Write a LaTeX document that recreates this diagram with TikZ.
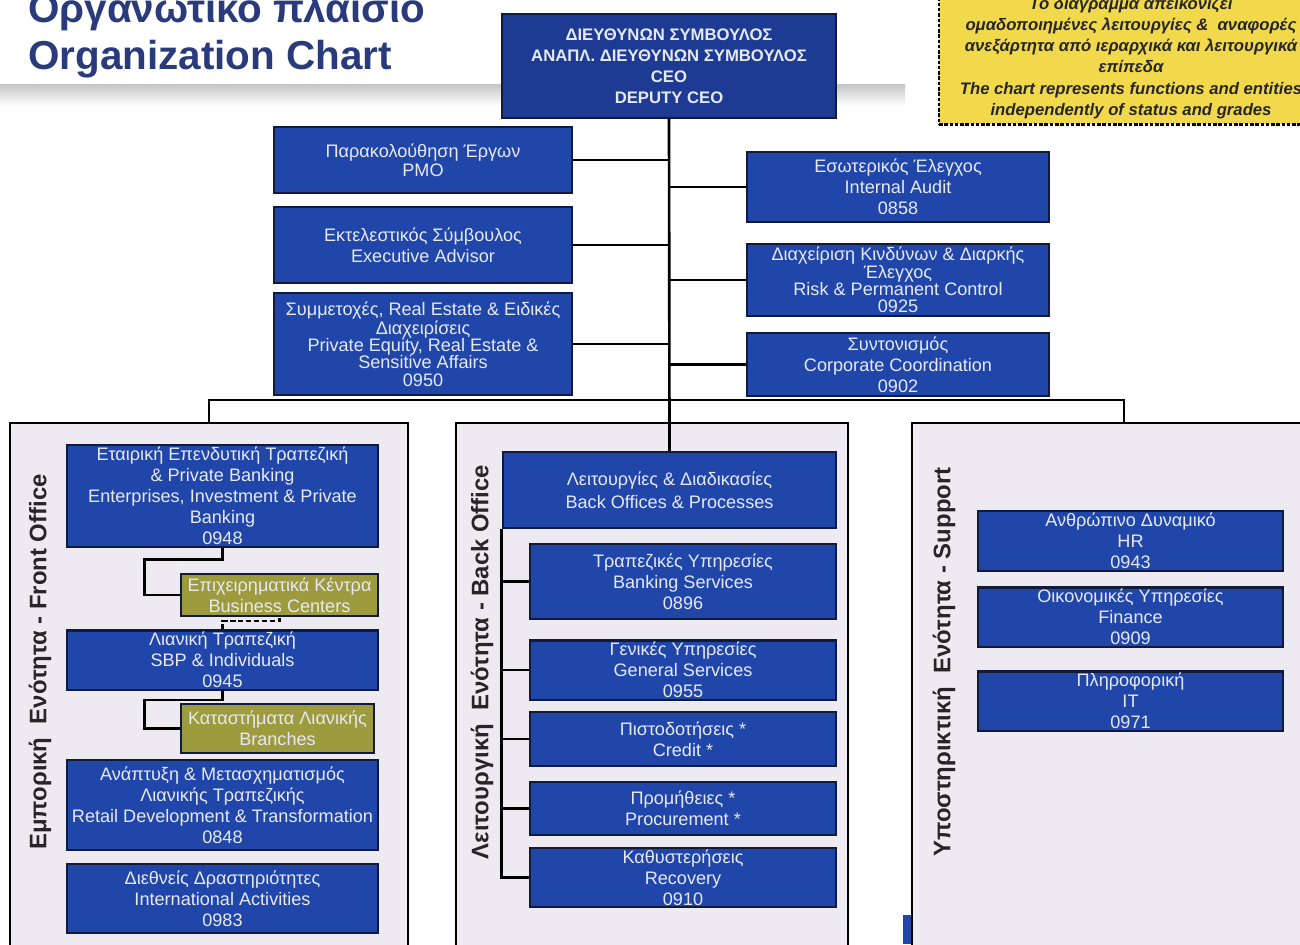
\documentclass[tikz,border=0pt]{standalone}
\usepackage{fontspec}
\setmainfont{Liberation Sans}
\usepackage{xcolor}
\usepackage{tikz}
\usetikzlibrary{positioning,backgrounds}

\definecolor{unitblue}{HTML}{2146AA}
\definecolor{ceoblue}{HTML}{1D3B92}
\definecolor{unitline}{HTML}{111A38}
\definecolor{unittext}{HTML}{E6E9F4}
\definecolor{branchgold}{HTML}{9E9B3E}
\definecolor{panelfill}{HTML}{EDEAF1}
\definecolor{notefill}{HTML}{F2D94C}
\definecolor{titleblue}{HTML}{2A3B7C}

\tikzset{
  unitbox/.style={draw=unitline, line width=1.4pt, fill=unitblue, text=unittext,
    align=center, inner xsep=2pt, inner ysep=1pt, font=\fontsize{10.3}{12}\selectfont},
  tightbox/.style={font=\fontsize{10.3}{9.8}\selectfont},
  centrebox/.style={unitbox, fill=branchgold},
  panelbox/.style={draw=black, line width=1.2pt, fill=panelfill},
  sidelabel/.style={rotate=90, text=black!85, font=\bfseries\fontsize{13.6}{15}\selectfont},
  notebox/.style={draw=black, line width=1.5pt, dash pattern=on 2pt off 1pt, fill=notefill,
    align=center, text=black!85, font=\bfseries\itshape\fontsize{9.5}{12}\selectfont},
  link/.style={draw=black, line width=1.5pt},
  dashlink/.style={link, dash pattern=on 3pt off 1.5pt},
}

\begin{document}
\begin{tikzpicture}[x=0.02cm, y=-0.02cm]
        \useasboundingbox (0,0) rectangle (1300,944);
        \clip (0,0) rectangle (1300,944);
        \fill[white] (0,0) rectangle (1300,944);

        % Title and band
        \shade[top color=gray!45, bottom color=white] (0,84) rectangle (905,106);
        \node[anchor=west, align=left, text=titleblue, font=\bfseries\fontsize{23}{27}\selectfont] (title) at (22,35)
            {Οργανωτικό πλαίσιο\\Organization Chart};

        % Note
        \node[notebox, minimum width=7.68cm, minimum height=2.6cm] (note) at (1131,58)
            {Το διάγραμμα απεικονίζει\\ομαδοποιημένες λειτουργίες \&\ \ αναφορές\\ανεξάρτητα από ιεραρχικά και λειτουργικά\\επίπεδα\\The chart represents functions and entities\\independently of status and grades};

        % Panels
        \node[panelbox, minimum width=7.96cm, minimum height=10.9cm] (front) at (209,695) {};
        \node[panelbox, minimum width=7.84cm, minimum height=10.9cm] (back) at (652,695) {};
        \node[panelbox, minimum width=7.96cm, minimum height=10.9cm] (support) at (1111,695) {};

        \node[sidelabel] (frontlabel) at (40,662) {Εμπορική\ \ Ενότητα - Front Office};
        \node[sidelabel] (backlabel) at (482,662) {Λειτουργική\ \ Ενότητα - Back Office};
        \node[sidelabel] (supportlabel) at (944,662) {Υποστηρικτική\ \ Ενότητα - Support};

        % CEO
        \node[unitbox, fill=ceoblue, font=\bfseries\fontsize{9.5}{12}\selectfont, minimum width=6.68cm, minimum height=2.08cm] (ceo) at (669,66)
            {ΔΙΕΥΘΥΝΩΝ ΣΥΜΒΟΥΛΟΣ\\ΑΝΑΠΛ. ΔΙΕΥΘΥΝΩΝ ΣΥΜΒΟΥΛΟΣ\\CEO\\DEPUTY CEO};

        % Staff units, left
        \node[unitbox, minimum width=5.96cm, minimum height=1.32cm, font=\fontsize{10.3}{10.8}\selectfont] (pmo) at (423,160)
            {Παρακολούθηση Έργων\\PMO};
        \node[unitbox, minimum width=5.96cm, minimum height=1.52cm] (advisor) at (423,245)
            {Εκτελεστικός Σύμβουλος\\Executive Advisor};
        \node[unitbox, tightbox, minimum width=5.96cm, minimum height=2.04cm] (equity) at (423,344)
            {Συμμετοχές, Real Estate \& Ειδικές\\Διαχειρίσεις\\Private Equity, Real Estate \&\\Sensitive Affairs\\0950};

        % Staff units, right
        \node[unitbox, minimum width=6.04cm, minimum height=1.40cm] (audit) at (898,187)
            {Εσωτερικός Έλεγχος\\Internal Audit\\0858};
        \node[unitbox, tightbox, minimum width=6.04cm, minimum height=1.44cm] (risk) at (898,280)
            {Διαχείριση Κινδύνων \& Διαρκής\\Έλεγχος\\Risk \& Permanent Control\\0925};
        \node[unitbox, minimum width=6.04cm, minimum height=1.26cm] (coord) at (898,364.5)
            {Συντονισμός\\Corporate Coordination\\0902};

        % Front office
        \node[unitbox, minimum width=6.22cm, minimum height=2.04cm] (enterprise) at (222.5,496)
            {Εταιρική Επενδυτική Τραπεζική\\\& Private Banking\\Enterprises, Investment \& Private\\Banking\\0948};
        \node[centrebox, minimum width=3.94cm, minimum height=0.84cm] (bizcentre) at (279.5,595)
            {Επιχειρηματικά Κέντρα\\Business Centers};
        \node[unitbox, minimum width=6.22cm, minimum height=1.12cm] (retail) at (222.5,660)
            {Λιανική Τραπεζική\\SBP \& Individuals\\0945};
        \node[centrebox, minimum width=3.86cm, minimum height=0.98cm] (branches) at (277.5,728.5)
            {Καταστήματα Λιανικής\\Branches};
        \node[unitbox, minimum width=6.22cm, minimum height=1.80cm] (retaildev) at (222.5,805)
            {Ανάπτυξη \& Μετασχηματισμός\\Λιανικής Τραπεζικής\\Retail Development \& Transformation\\0848};
        \node[unitbox, minimum width=6.22cm, minimum height=1.38cm] (intl) at (222.5,898.5)
            {Διεθνείς Δραστηριότητες\\International Activities\\0983};

        % Back office
        \node[unitbox, font=\fontsize{10.3}{13}\selectfont, minimum width=6.66cm, minimum height=1.52cm] (backoff) at (669.5,490)
            {Λειτουργίες \& Διαδικασίες\\Back Offices \& Processes};
        \node[unitbox, minimum width=6.12cm, minimum height=1.50cm] (banking) at (683,581.5)
            {Τραπεζικές Υπηρεσίες\\Banking Services\\0896};
        \node[unitbox, minimum width=6.12cm, minimum height=1.08cm] (general) at (683,670)
            {Γενικές Υπηρεσίες\\General Services\\0955};
        \node[unitbox, minimum width=6.12cm, minimum height=1.08cm] (credit) at (683,739)
            {Πιστοδοτήσεις *\\Credit *};
        \node[unitbox, minimum width=6.12cm, minimum height=1.06cm] (procure) at (683,808.5)
            {Προμήθειες *\\Procurement *};
        \node[unitbox, minimum width=6.12cm, minimum height=1.10cm] (recovery) at (683,877.5)
            {Καθυστερήσεις\\Recovery\\0910};

        % Support
        \node[unitbox, minimum width=6.10cm, minimum height=1.20cm] (hr) at (1130.5,541)
            {Ανθρώπινο Δυναμικό\\HR\\0943};
        \node[unitbox, minimum width=6.10cm, minimum height=1.12cm] (finance) at (1130.5,617)
            {Οικονομικές Υπηρεσίες\\Finance\\0909};
        \node[unitbox, minimum width=6.10cm, minimum height=1.16cm] (it) at (1130.5,701)
            {Πληροφορική\\IT\\0971};

        % Spine and staff links
        \draw[link] (ceo.south) -- (backoff.north);
        \foreach \u in {pmo,advisor,equity}
            \draw[link] (\u.east) -- (\u.east -| ceo.south);
        \foreach \u in {audit,risk,coord}
            \draw[link] (\u.west) -- (\u.west -| ceo.south);

        % Bus to the panels
        \coordinate (busR) at (1124,400);
        \draw[link, line width=1.2pt] (front.north) |- (busR) -- (busR |- support.north);

        % Front office links
        \draw[link] (enterprise.south) -- ++(0,11) -- ++(-78,0) |- (bizcentre.west);
        \draw[link] (retail.south) -- ++(0,9) -- ++(-78,0) |- (branches.west);
        \draw[dashlink] (retail.north) -- ++(0,-8) -| (bizcentre.south);

        % Back office links
        \draw[link] (backoff.south west) |- (recovery.west);
        \foreach \u in {banking,general,credit,procure}
            \draw[link] (\u.west) -- (\u.west -| backoff.west);

        \fill[unitblue] (903,915) rectangle (911,944);
    \end{tikzpicture}
\end{document}
